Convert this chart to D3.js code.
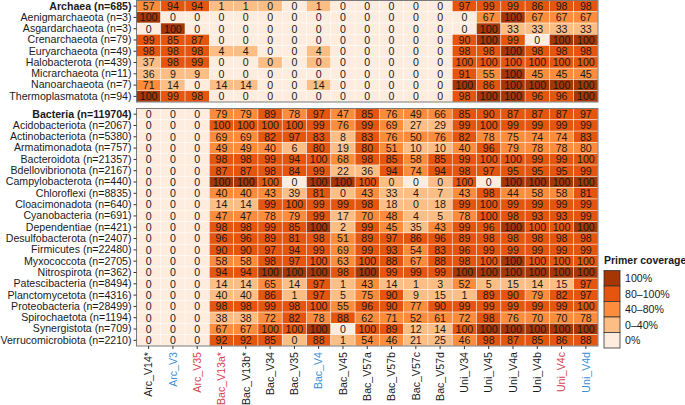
<!DOCTYPE html>
<html><head><meta charset="utf-8">
<script src="https://cdn.jsdelivr.net/npm/d3@7"></script>
<style>body{margin:0;background:#fff}svg{display:block}</style>
</head><body>
<svg id="c" width="685" height="405"></svg>
<script>
const primers = ["Arc_V14*","Arc_V3","Arc_V35","Bac_V13a*","Bac_V13b*","Bac_V34","Bac_V35","Bac_V4","Bac_V45","Bac_V57a","Bac_V57b","Bac_V57c","Bac_V57d","Uni_V34","Uni_V45","Uni_V4a","Uni_V4b","Uni_V4c","Uni_V4d"];
const primerColors = ["black","blue","red","red","black","black","black","blue","black","black","black","black","black","black","black","black","black","red","blue"];

const archaeaRows = ["Archaea (n=685)","Aenigmarchaeota (n=3)","Asgardarchaeota (n=3)","Crenarchaeota (n=79)","Euryarchaeota (n=49)","Halobacterota (n=439)","Micrarchaeota (n=11)","Nanoarchaeota (n=7)","Thermoplasmatota (n=94)"];
const archaeaValues = [
 [57,94,94,1,1,0.3,0,1,0,0,0,0,0,97,99,99,86,98,98],
 [100,0,0,0,0,0,0,0,0,0,0,0,0,0,67,100,67,67,67],
 [0,100,0,0,0,0,0,0,0,0,0,0,0,0,100,33,33,33,33],
 [99,85,87,0,0,0,0,0,0,0,0,0,0,90,100,99,0,100,100],
 [98,98,98,4,4,0,0,4,0,0,0,0,0,98,98,100,98,98,98],
 [37,98,99,0,0,0.2,0,0.2,0,0,0,0,0,99.6,99.6,99.6,99.6,99.6,99.6],
 [36,9,9,0,0,0,0,0,0,0,0,0,0,91,55,100,45,45,45],
 [71,14,0,14,14,0,0,14,0,0,0,0,0,100,86,100,100,100,100],
 [100,99,98,0,0,0,0,0,0,0,0,0,0,98,100,100,96,96,100]
];

const bacteriaRows = ["Bacteria (n=119704)","Acidobacteriota (n=2067)","Actinobacteriota (n=5380)","Armatimonadota (n=757)","Bacteroidota (n=21357)","Bdellovibrionota (n=2167)","Campylobacterota (n=440)","Chloroflexi (n=8835)","Cloacimonadota (n=640)","Cyanobacteria (n=691)","Dependentiae (n=421)","Desulfobacterota (n=2407)","Firmicutes (n=22480)","Myxococcota (n=2705)","Nitrospirota (n=362)","Patescibacteria (n=8494)","Planctomycetota (n=4316)","Proteobacteria (n=28499)","Spirochaetota (n=1194)","Synergistota (n=709)","Verrucomicrobiota (n=2210)"];
const bacteriaValues = [
 [0,0,0,79,79,89,78,97,47,85,76,49,66,85,90,87,87,87,97],
 [0,0,0,99.6,99.6,99.6,99.6,99,76,99,69,27,29,99,99.6,99,99,99,99],
 [0,0,0,69,69,82,97,83,8,83,76,50,76,82,78,75,74,74,83],
 [0,0,0,49,49,40.2,6,80.2,19,80.2,51,10,10,40.2,96,79,78,78,79.6],
 [0,0,0,98,98,99,94,99.6,68,98,85,58,85,99,99.6,99.6,99,99,99.6],
 [0,0,0,87,87,98,84,99,22,36,94,74,94,98,97,95,95,95,99],
 [0,0,0,100,100,99.6,0,100,100,99.6,0.3,0,0.3,99.6,0,100,100,100,100],
 [0,0,0,40.2,40.2,43,39,81,0.3,43,33,4,7,43,98,44,58,58,81],
 [0,0,0,14,14,99,99.6,99,99,98,18,0.2,18,99,99.6,99,99,99,99],
 [0,0,0,47,47,78,79,99,17,70,48,4,5,78,99.6,98,93,93,99],
 [0,0,0,98,98,99,85,100,2,99,45,35,43,99,96,100,99.6,99.6,100],
 [0,0,0,96,96,89,81,98,51,89,97,86,96,89,98,98,98,98,98],
 [0,0,0,90,90,97,94,99,69,99,93,54,83,96,99,99,99,99,99],
 [0,0,0,58,58,98,97,99.6,63,99.6,88,67,88,98,99.6,100,99.6,99.6,99.6],
 [0,0,0,94,94,100,100,100,98,100,99,99,99,100,100,100,100,100,100],
 [0,0,0,14,14,65,14,97,1,43,14,1,3,52,5,15,14,15,97],
 [0,0,0,39.7,39.7,86,1,97,5,75,90,9,15,1,89,90,79,82,97],
 [0,0,0,98,98,99,98,99.6,55,96,90,77,90,99,99,99,99,99,99.6],
 [0,0,0,38,38,72,82,78,88,62,71,52,61,72,98,76,70,70,78],
 [0,0,0,67,67,99.6,99.6,100,0,99.6,89,12,14,99.6,100,100,100,100,100],
 [0,0,0,92,92,85,0.3,88,1,54,46,21,25,46,98,87,85,86,88]
];

const legendLabels = ["100%","80\u2013100%","40\u201380%","0\u201340%","0%"];
const binColors = ["#feedde","#fdbe85","#fd8d3c","#e6550d","#a63603"];
const textColors = {black:"#1a1a1a", blue:"#3a8ed3", red:"#d6404e"};

function bin(v){ if(v>=100) return 4; if(v>=80) return 3; if(v>=40) return 2; if(v>0) return 1; return 0; }

const svg = d3.select("#c");
const font = "'Liberation Sans', Arial, sans-serif";
const fs = "10.6px";
const x = d3.scaleBand().domain(primers).range([136.5, 598]);

const panels = [
  {rows: archaeaRows, values: archaeaValues, range:[0.5, 102]},
  {rows: bacteriaRows, values: bacteriaValues, range:[108.5, 346]}
];

panels.forEach((p, pi) => {
  const y = d3.scaleBand().domain(p.rows).range(p.range);
  const g = svg.append("g");
  const cells = [];
  p.rows.forEach((r, ri) => p.values[ri].forEach((v, ci) => cells.push({r, c: primers[ci], v})));
  g.selectAll("rect.cell").data(cells).join("rect")
    .attr("x", d => x(d.c)).attr("y", d => y(d.r))
    .attr("width", x.bandwidth()).attr("height", y.bandwidth())
    .attr("fill", d => binColors[bin(d.v)])
    .attr("stroke", "#ffffff").attr("stroke-opacity", 0.7).attr("stroke-width", 0.6);
  g.selectAll("text.val").data(cells).join("text")
    .attr("x", d => x(d.c) + x.bandwidth()/2).attr("y", d => y(d.r) + y.bandwidth()/2)
    .attr("dy", "0.36em").attr("text-anchor", "middle")
    .attr("font-family", font).attr("font-size", fs).attr("fill", "#1a1a1a")
    .text(d => Math.round(d.v));
  g.append("rect").attr("x", x.range()[0]).attr("y", p.range[0])
    .attr("width", x.range()[1]-x.range()[0]).attr("height", p.range[1]-p.range[0])
    .attr("fill", "none").attr("stroke", "#7a7a7a").attr("stroke-width", 1);
  const ya = svg.append("g").attr("transform", `translate(${x.range()[0]},0)`)
    .call(d3.axisLeft(y).tickSize(3).tickPadding(2));
  ya.select(".domain").remove();
  ya.selectAll("line").attr("stroke", "#333");
  ya.selectAll("text").attr("font-family", font).attr("font-size", fs).attr("fill", "#1a1a1a")
    .attr("font-weight", (d,i) => i === 0 ? "bold" : "normal");
});

const xa = svg.append("g").attr("transform", "translate(0,346)")
  .call(d3.axisBottom(x).tickSize(3).tickPadding(2));
xa.select(".domain").remove();
xa.selectAll("line").attr("stroke", "#333");
xa.selectAll("text")
  .attr("font-family", font).attr("font-size", fs)
  .attr("transform", "rotate(-90)").attr("text-anchor", "end")
  .attr("x", -6).attr("y", 0).attr("dy", "0.35em")
  .attr("fill", (d,i) => textColors[primerColors[i]]);

const lg = svg.append("g");
lg.append("text").attr("x", 604).attr("y", 264).attr("font-family", font)
  .attr("font-size", "10.5px").attr("font-weight", "bold").attr("fill", "#1a1a1a").text("Primer coverage");
const ly = d3.scaleBand().domain(legendLabels).range([270.5, 348]);
const legendData = legendLabels.map((l, i) => ({l, col: binColors[4 - i]}));
lg.selectAll("rect").data(legendData).join("rect")
  .attr("x", 604).attr("y", d => ly(d.l)).attr("width", 16).attr("height", ly.bandwidth())
  .attr("fill", d => d.col).attr("stroke", "#333").attr("stroke-width", 0.8);
lg.selectAll("text.lab").data(legendData).join("text").attr("class","lab")
  .attr("x", 625).attr("y", d => ly(d.l) + ly.bandwidth()/2).attr("dy", "0.36em")
  .attr("font-family", font).attr("font-size", fs).attr("fill", "#1a1a1a").text(d => d.l);
</script>
</body></html>
